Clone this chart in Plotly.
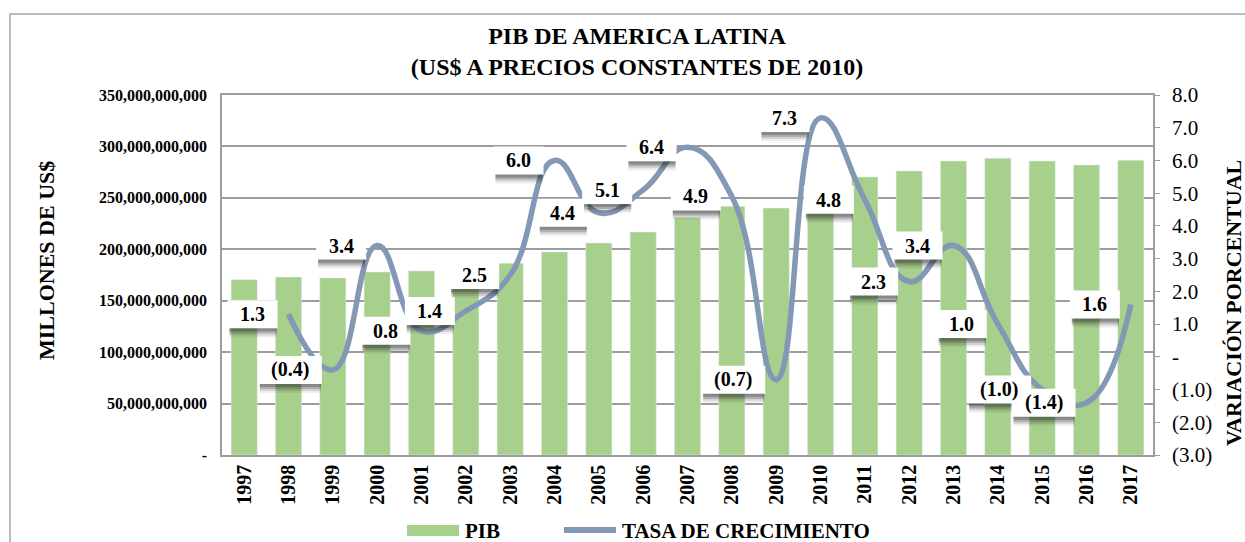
import plotly.graph_objects as go

years = [str(y) for y in range(1997, 2018)]
pib = [170.5e9, 173.0e9, 172.1e9, 177.9e9, 178.9e9, 181.5e9, 186.4e9, 197.4e9, 206.1e9,
       216.8e9, 230.8e9, 241.8e9, 240.1e9, 258.3e9, 270.3e9, 276.1e9, 285.8e9, 288.4e9,
       285.8e9, 282.0e9, 286.5e9]
growth_years = years[1:]
growth = [1.3, -0.4, 3.4, 0.8, 1.4, 2.5, 6.0, 4.4, 5.1, 6.4, 4.9, -0.7, 7.3, 4.8, 2.3,
          3.4, 1.0, -1.0, -1.4, 1.6]

left_ticks = [0, 50e9, 100e9, 150e9, 200e9, 250e9, 300e9, 350e9]
right_ticks = [-3, -2, -1, 0, 1, 2, 3, 4, 5, 6, 7, 8]
series_names = ["PIB", "TASA DE CRECIMIENTO"]


def fmt_left(v):
    return "-" if v == 0 else f"{int(v):,}"


def fmt_pct(v):
    if v == 0:
        return "-"
    return f"({abs(v):.1f})" if v < 0 else f"{v:.1f}"


FONT = "Liberation Serif, Times New Roman, serif"
GREEN = "#a6d08b"
LINE = "#8398b5"
GRID = "#9c9c9c"

# pixel layout helpers (plot area 222..1153 x 95..455)
L, R, T, B = 222, 1153, 95, 455


def px(xp):
    return (xp - L) / (R - L)


def py(yp):
    return (B - yp) / (B - T)


fig = go.Figure()
fig.add_trace(go.Bar(x=years, y=pib, name=series_names[0], marker_color=GREEN, yaxis="y"))
fig.add_trace(go.Scatter(x=growth_years, y=growth, name=series_names[1], mode="lines",
                         line=dict(color=LINE, width=5.5, shape="spline", smoothing=1.3),
                         yaxis="y2"))

# data labels: white boxes with soft shadow (pixel-sized shapes anchored at each point)
GAP, H = 11, 28
for yr, v in zip(growth_years, growth):
    idx = years.index(yr)
    w = 64 if v < 0 else 50
    x1 = -GAP
    x0 = -GAP - w
    for off, a in ((9, 0.08), (7, 0.14), (5, 0.22), (3, 0.28)):
        fig.add_shape(type="rect", xref="x", yref="y2", layer="above",
                      xsizemode="pixel", ysizemode="pixel", xanchor=idx, yanchor=v,
                      x0=x0 + 2, x1=x1 - 1, y0=-H / 2 - off, y1=-H / 2 + 4,
                      line=dict(width=0), fillcolor=f"rgba(40,40,40,{a})")
    fig.add_shape(type="rect", xref="x", yref="y2", layer="above",
                  xsizemode="pixel", ysizemode="pixel", xanchor=idx, yanchor=v,
                  x0=x0, x1=x1, y0=-H / 2, y1=H / 2,
                  line=dict(width=0), fillcolor="white")
    fig.add_annotation(x=idx, y=v, xref="x", yref="y2", text=f"<b>{fmt_pct(v)}</b>",
                       showarrow=False, xanchor="center", yanchor="middle",
                       xshift=-GAP - w / 2, font=dict(family=FONT, size=20, color="black"))

# axis titles
fig.add_annotation(xref="paper", yref="paper", x=px(46), y=py(261), xanchor="center",
                   yanchor="middle", text="<b>MILLONES DE US$</b>", textangle=-90,
                   showarrow=False, font=dict(family=FONT, size=22, color="black"))
fig.add_annotation(xref="paper", yref="paper", x=px(1233), y=py(303), xanchor="center",
                   yanchor="middle", text="<b>VARIACIÓN PORCENTUAL</b>", textangle=-90,
                   showarrow=False, font=dict(family=FONT, size=22, color="black"))

# custom legend
fig.add_shape(type="rect", xref="paper", yref="paper", x0=px(407), x1=px(459),
              y0=py(536), y1=py(525), line=dict(width=0), fillcolor=GREEN)
fig.add_annotation(xref="paper", yref="paper", x=px(463), y=py(531), xanchor="left",
                   yanchor="middle", text=f"<b>{series_names[0]}</b>", showarrow=False,
                   font=dict(family=FONT, size=21, color="black"))
fig.add_shape(type="line", xref="paper", yref="paper", x0=px(564), x1=px(616),
              y0=py(530), y1=py(530), line=dict(color=LINE, width=6))
fig.add_annotation(xref="paper", yref="paper", x=px(620), y=py(531), xanchor="left",
                   yanchor="middle", text=f"<b>{series_names[1]}</b>", showarrow=False,
                   font=dict(family=FONT, size=21, color="black"))

# outer chart border
fig.add_shape(type="rect", xref="paper", yref="paper",
              x0=px(10), x1=px(1262), y0=py(560), y1=py(14),
              line=dict(color="#a8a8a8", width=1.5), fillcolor="rgba(0,0,0,0)", layer="below")

fig.update_layout(
    width=1245, height=542,
    margin=dict(l=L, r=1245 - R, t=T, b=542 - B, autoexpand=False),
    paper_bgcolor="white", plot_bgcolor="white",
    bargap=0.41,
    showlegend=False,
    title=dict(text="<b>PIB DE AMERICA LATINA<br>(US$ A PRECIOS CONSTANTES DE 2010)</b>",
               x=px(637), xref="paper", xanchor="center",
               y=1 - 44 / 542, yref="container", yanchor="top",
               font=dict(family=FONT, size=24, color="black")),
    xaxis=dict(type="category", range=[-0.5, len(years) - 0.5], autorange=False,
               tickangle=-90, showline=True, linecolor=GRID, linewidth=1.5,
               mirror=True, showgrid=False, ticks="",
               tickfont=dict(family=FONT, size=20, color="black", weight="bold")),
    yaxis=dict(range=[0, 350e9], tickvals=left_ticks, ticktext=[fmt_left(v) for v in left_ticks],
               showgrid=True, gridcolor=GRID, gridwidth=1.5, showline=True, linecolor=GRID,
               linewidth=1.5, zeroline=False, ticks="", ticklabelstandoff=10,
               tickfont=dict(family=FONT, size=16, color="black", weight="bold")),
    yaxis2=dict(range=[-3, 8], overlaying="y", side="right", tickvals=right_ticks,
                ticktext=[fmt_pct(v) for v in right_ticks], showgrid=False, zeroline=False,
                showline=True, linecolor=GRID, linewidth=1.5, ticks="outside", ticklen=5,
                tickcolor=GRID, ticklabelstandoff=8,
                tickfont=dict(family=FONT, size=21, color="black")),
)

fig.write_html("out.html", config={"displayModeBar": False},
               post_script="document.body.style.margin='0px';document.body.style.overflow='hidden';")
